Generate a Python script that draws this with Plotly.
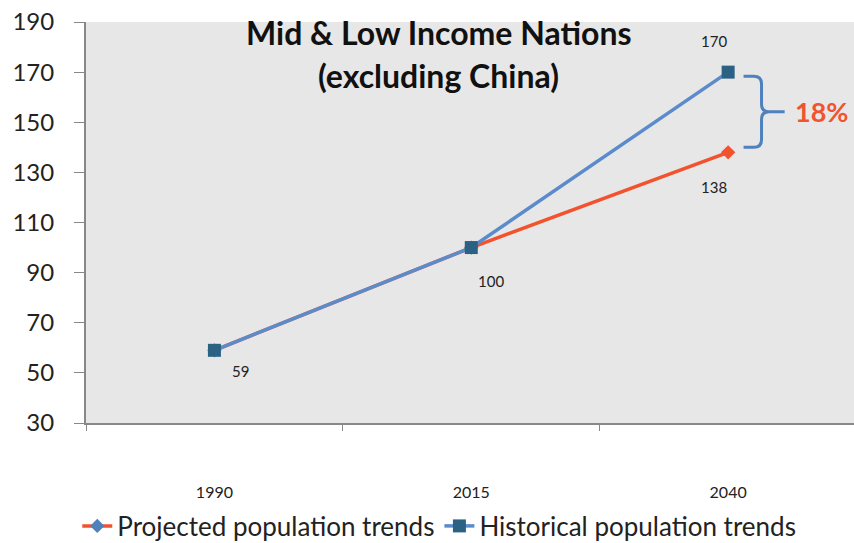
import plotly.graph_objects as go

# Population index (2015 = 100)
years = ["1990", "2015", "2040"]
projected = [59, 100, 138]
historical = [59, 100, 170]
y_ticks = [30, 50, 70, 90, 110, 130, 150, 170, 190]
gap_label = "18%"
title_lines = ["Mid & Low Income Nations", "(excluding China)"]

FONT = "Lato, Calibri, Carlito, sans-serif"
BLUE = "#5B8BCB"
RED = "#F2532E"
SQUARE = "#2B6283"

fig = go.Figure()

fig.add_trace(go.Scatter(
    x=years, y=projected, mode="lines+markers",
    name="Projected population trends",
    line=dict(color=RED, width=3.5),
    marker=dict(symbol="diamond", size=11, color=["#4F81BD", "#4F81BD", RED]),
))
fig.add_trace(go.Scatter(
    x=years, y=historical, mode="lines+markers",
    name="Historical population trends",
    line=dict(color=BLUE, width=3.5),
    marker=dict(symbol="square", size=13, color=SQUARE),
))

# value labels next to the markers (x given as category index)
label_points = [
    (0, historical[0], 26, -21),
    (1, historical[1], 20, -33),
    (2, projected[2], -14, -35),
    (2, historical[2], -14, 31),
]
for xi, yv, dx, dy in label_points:
    fig.add_annotation(x=xi, y=yv, xref="x", yref="y", text=str(yv),
                       showarrow=False, xshift=dx, yshift=dy,
                       font=dict(family=FONT, size=15, color="#222"))

# two-line title inside the plot area
for text, ypos in zip(title_lines, [1.0 - 10 / 401, 1.0 - 53 / 401]):
    fig.add_annotation(x=0.459, y=ypos, xref="paper", yref="paper",
                       text=f"<b>{text}</b>", showarrow=False,
                       xanchor="center", yanchor="middle",
                       font=dict(family=FONT, size=32, color="#111"))

# curly brace spanning the gap at 2040
top, bot = 168.4, 140.0
mid = (top + bot) / 2
x0, x1, x2 = 2.06, 2.13, 2.22
r = 0.03
path = (f"M {x0},{top} L {x1 - r},{top} Q {x1},{top} {x1},{top - 3} "
        f"L {x1},{mid + 3} Q {x1},{mid} {x1 + r},{mid} L {x2},{mid} "
        f"M {x1 + r},{mid} Q {x1},{mid} {x1},{mid - 3} "
        f"L {x1},{bot + 3} Q {x1},{bot} {x1 - r},{bot} L {x0},{bot}")
fig.add_shape(type="path", path=path, xref="x", yref="y",
              line=dict(color="#4F81BD", width=3))
fig.add_annotation(x=2.365, y=mid, text=f"<b>{gap_label}</b>", showarrow=False,
                   xanchor="center",
                   font=dict(family=FONT, size=27, color=RED))

fig.update_layout(
    width=854, height=543,
    margin=dict(l=86, r=0, t=22, b=120, autoexpand=False),
    paper_bgcolor="white",
    plot_bgcolor="#E7E7E7",
    showlegend=True,
    legend=dict(orientation="h", x=0.46, xanchor="center",
                y=-103 / 401, yanchor="middle",
                font=dict(family=FONT, size=26, color="#222"),
                bgcolor="rgba(0,0,0,0)", itemwidth=30),
    xaxis=dict(type="category", range=[-0.5, 2.49], showgrid=False,
               showline=True, linecolor="#888", linewidth=2,
               ticks="outside", tickson="boundaries", ticklen=6, tickcolor="#888",
               ticklabelstandoff=54,
               tickfont=dict(family=FONT, size=16, color="#222")),
    yaxis=dict(range=[30, 190], tickvals=y_ticks, showgrid=False, zeroline=False,
               showline=True, linecolor="#888", linewidth=2,
               ticks="outside", ticklen=10, tickcolor="#888",
               ticklabelstandoff=15,
               tickfont=dict(family=FONT, size=24, color="#222")),
)

fig.write_html("out.html")
